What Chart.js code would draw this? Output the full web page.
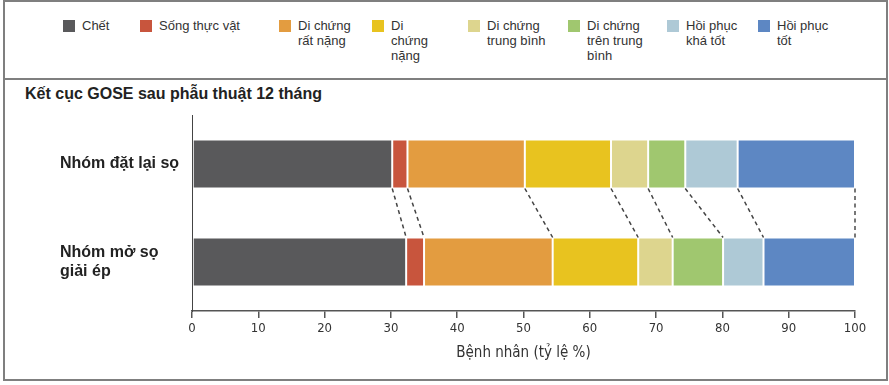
<!DOCTYPE html>
<html>
<head>
<meta charset="utf-8">
<script src="https://cdn.jsdelivr.net/npm/chart.js@4"></script>
<style>
  html, body { margin: 0; padding: 0; background: #fff; }
  #wrap { position: relative; width: 889px; height: 385px; overflow: hidden; background: #fff; }
  #frame { position: absolute; left: 3px; top: 0; width: 885px; height: 381px; box-sizing: border-box; border: 2px solid #7f7f7f; pointer-events: none; }
  #divider { position: absolute; left: 3px; top: 78px; width: 885px; height: 2px; background: #7f7f7f; }
  .lg { position: absolute; top: 18px; font: 13px "Liberation Sans", Arial, sans-serif; color: #333; line-height: 15px; }
  .sw { position: absolute; top: 20px; width: 12px; height: 12px; }
  #title { position: absolute; left: 25px; top: 85px; font: bold 16px "Liberation Sans", Arial, sans-serif; color: #222; white-space: nowrap; }
  canvas { position: absolute; left: 0; top: 100px; }
</style>
</head>
<body>
<div id="wrap">
  <div id="legend"></div>
  <div id="title">Kết cục GOSE sau phẫu thuật 12 tháng</div>
  <canvas id="c" width="889" height="280"></canvas>
  <div id="divider"></div>
  <div id="frame"></div>
</div>
<script>
// ---- data ----
const categories = ['Nhóm đặt lại sọ', ['Nhóm mở sọ', 'giải ép']];
const outcomes = ['Chết', 'Sống thực vật', 'Di chứng rất nặng', 'Di chứng nặng',
                  'Di chứng trung bình', 'Di chứng trên trung bình', 'Hồi phục khá tốt', 'Hồi phục tốt'];
const legendLines = [['Chết'], ['Sống thực vật'], ['Di chứng', 'rất nặng'], ['Di', 'chứng', 'nặng'],
                     ['Di chứng', 'trung bình'], ['Di chứng', 'trên trung', 'bình'], ['Hồi phục', 'khá tốt'], ['Hồi phục', 'tốt']];
const replacedGroup = [30.2, 2.3, 17.7, 13.0, 5.6, 5.6, 7.9, 17.7];
const decompressGroup = [32.3, 2.7, 19.4, 12.9, 5.2, 7.6, 6.1, 13.8];
const xTicks = [0, 10, 20, 30, 40, 50, 60, 70, 80, 90, 100];
const xTitle = 'Bệnh nhân (tỷ lệ %)';

// ---- style ----
const colors = ['#59595b', '#c8553d', '#e39c40', '#e8c31f', '#ddd58e', '#a0c76f', '#aec9d6', '#5d87c3'];
const legendX = [63, 140, 279, 372, 468, 568, 667, 758];

// legend (HTML)
const lg = document.getElementById('legend');
outcomes.forEach((name, i) => {
  const sw = document.createElement('div');
  sw.className = 'sw'; sw.style.left = legendX[i] + 'px'; sw.style.background = colors[i];
  lg.appendChild(sw);
  const t = document.createElement('div');
  t.className = 'lg'; t.style.left = (legendX[i] + 19) + 'px';
  t.innerHTML = legendLines[i].join('<br>');
  lg.appendChild(t);
});

const datasets = outcomes.map((name, i) => ({
  label: name,
  data: [replacedGroup[i], decompressGroup[i]],
  backgroundColor: colors[i],
  borderColor: 'rgba(255,255,255,0.22)',
  borderWidth: 1,
  borderSkipped: false,
  barPercentage: 0.5,
  categoryPercentage: 1.0
}));

const connectors = {
  id: 'connectors',
  afterDatasetsDraw(chart) {
    const ctx = chart.ctx;
    ctx.save();
    ctx.strokeStyle = '#444';
    ctx.lineWidth = 1.5;
    ctx.setLineDash([4, 3.5]);
    const last = chart.data.datasets.length - 1;
    chart.data.datasets.forEach((ds, i) => {
      const meta = chart.getDatasetMeta(i);
      const a = meta.data[0], b = meta.data[1];
      ctx.strokeStyle = i === last ? '#777' : '#444';
      ctx.lineWidth = i === last ? 2 : 1.5;
      ctx.beginPath();
      ctx.moveTo(a.x, a.y + a.height / 2);
      ctx.lineTo(b.x, b.y - b.height / 2);
      ctx.stroke();
    });
    ctx.restore();
  }
};

new Chart(document.getElementById('c'), {
  type: 'bar',
  data: { labels: categories, datasets },
  plugins: [connectors],
  options: {
    indexAxis: 'y',
    responsive: false,
    animation: false,
    devicePixelRatio: 1,
    layout: { padding: { left: 60, right: 34, top: 15, bottom: 0 } },
    plugins: { legend: { display: false }, tooltip: { enabled: false }, title: { display: false } },
    scales: {
      x: {
        stacked: true, min: 0, max: 100,
        afterBuildTicks(scale) { scale.ticks = xTicks.map(v => ({ value: v })); },
        afterFit(scale) { scale.height = 69; scale.paddingLeft = 0; scale.paddingRight = 0; },
        grid: { drawOnChartArea: false, drawTicks: true, tickLength: 7, color: '#555', lineWidth: 1.5 },
        border: { display: true, color: '#555', width: 1.5 },
        ticks: { padding: 3, color: '#333', font: { family: '"DejaVu Sans Condensed", "DejaVu Sans", sans-serif', size: 13 } },
        title: { display: true, text: xTitle, color: '#333', padding: { top: 0, bottom: 18 },
                 font: { family: '"DejaVu Sans Condensed", "DejaVu Sans", sans-serif', size: 15 } }
      },
      y: {
        stacked: true,
        afterFit(scale) { scale.width = 132; scale.paddingTop = 0; scale.paddingBottom = 0; },
        grid: { display: false, drawTicks: false },
        border: { display: true, color: '#444', width: 1 },
        ticks: { padding: 12, crossAlign: 'far', color: '#222',
                 font: { family: '"Liberation Sans", Arial, sans-serif', size: 16, weight: 'bold' } }
      }
    }
  }
});
</script>
</body>
</html>
